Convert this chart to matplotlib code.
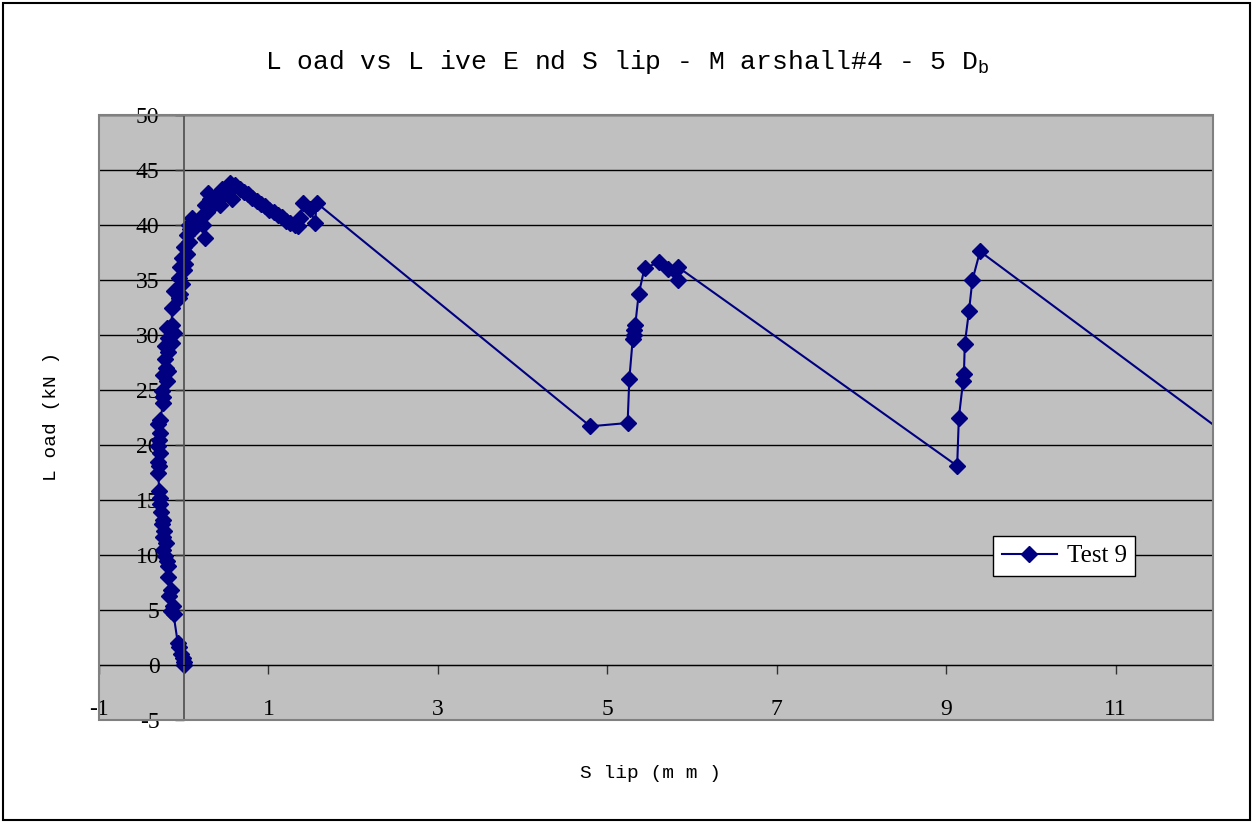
import matplotlib
matplotlib.use('Agg')
import matplotlib.pyplot as plt
from matplotlib.patches import Rectangle

# Test 9 readings: live end slip (mm) and load (kN)
slip = [0.00, 0.00, -0.01, -0.03, -0.06, -0.07, -0.12, -0.15, -0.13, -0.17,
        -0.15, -0.19, -0.18, -0.20, -0.22, -0.24, -0.21, -0.25, -0.23, -0.26,
        -0.24, -0.27, -0.28, -0.28, -0.29, -0.30, -0.29, -0.30, -0.28, -0.30,
        -0.29, -0.28, -0.30, -0.28, -0.24, -0.25, -0.26, -0.20, -0.24, -0.21,
        -0.18, -0.22, -0.19, -0.22, -0.14, -0.18, -0.12, -0.20, -0.14, -0.14,
        -0.12, -0.06, -0.04, -0.02, -0.06, 0.00, -0.04, 0.02, -0.02, 0.04,
        0.00, 0.06, 0.04, 0.08, 0.06, 0.12, 0.10, 0.16, 0.23, 0.25,
        0.21, 0.27, 0.25, 0.33, 0.31, 0.29, 0.39, 0.43, 0.45, 0.49,
        0.57, 0.55, 0.61, 0.66, 0.71, 0.76, 0.81, 0.86, 0.91, 0.96,
        1.01, 1.06, 1.11, 1.16, 1.21, 1.26, 1.31, 1.35, 1.37, 1.41,
        1.49, 1.55, 1.57,
        4.80, 5.24, 5.26, 5.30, 5.31, 5.32, 5.33, 5.37, 5.44, 5.61,
        5.72, 5.80, 5.83, 5.83,
        9.13, 9.15, 9.20, 9.21, 9.22, 9.27, 9.31, 9.40, 13.0]
load = [0.0, 0.3, 0.6, 1.0, 1.6, 2.0, 4.6, 4.9, 5.4, 6.3,
        6.8, 8.0, 9.0, 9.5, 9.9, 10.5, 11.1, 11.6, 12.2, 12.8,
        13.2, 13.9, 14.6, 15.2, 15.8, 17.5, 18.1, 18.5, 19.3, 19.9,
        20.5, 21.1, 21.9, 22.3, 23.8, 24.4, 24.9, 25.8, 26.4, 27.0,
        26.7, 27.8, 28.5, 29.0, 29.3, 29.7, 30.2, 30.6, 30.9, 32.5,
        34.0, 33.4, 33.7, 34.6, 35.2, 35.9, 36.2, 36.5, 37.0, 37.4,
        38.0, 38.5, 39.1, 39.6, 40.0, 39.7, 40.6, 40.3, 40.0, 38.8,
        40.8, 41.2, 41.8, 41.7, 42.4, 42.9, 42.7, 41.8, 43.3, 42.9,
        42.4, 43.8, 43.6, 43.3, 43.0, 42.8, 42.5, 42.2, 41.9, 41.7,
        41.4, 41.2, 40.9, 40.7, 40.4, 40.2, 40.0, 39.9, 40.6, 42.0,
        41.5, 40.2, 42.0,
        21.7, 22.0, 26.0, 29.6, 30.0, 30.5, 30.9, 33.7, 36.1, 36.6,
        36.0, 35.8, 35.0, 36.2,
        18.1, 22.5, 25.8, 26.5, 29.2, 32.2, 35.0, 37.6, 17.0]

x_ticks = [-1, 1, 3, 5, 7, 9, 11]
y_ticks = list(range(-5, 51, 5))

plt.rcParams['axes.unicode_minus'] = False
plt.rcParams['mathtext.fontset'] = 'custom'
plt.rcParams['mathtext.rm'] = 'Liberation Mono'

W, H = 1253, 823
fig = plt.figure(figsize=(W / 100, H / 100), dpi=100)
ax = fig.add_axes([99 / W, 1 - 720 / H, (1213 - 99) / W, (720 - 115) / H])
ax.set_facecolor('#c0c0c0')

ax.plot(slip, load, color='#000080', lw=1.5, marker='D', ms=8,
        mfc='#000080', mec='#000080', label='Test 9')

ax.set_xlim(-1, 12.15)
ax.set_ylim(-5, 50)
ax.set_xticks(x_ticks)
ax.set_yticks(y_ticks)

# axes cross at the origin, like the Excel chart
ax.spines['left'].set_position(('data', 0))
ax.spines['bottom'].set_position(('data', 0))
ax.spines['left'].set_color('#555555')
ax.spines['bottom'].set_color('black')
ax.spines['left'].set_linewidth(1.3)
ax.spines['top'].set_visible(False)
ax.spines['right'].set_visible(False)

ax.yaxis.grid(True, color='black', lw=1)
ax.set_axisbelow(True)

ax.tick_params(axis='x', direction='out', length=6.5, width=1, color='#333333', pad=18)
ax.tick_params(axis='y', direction='out', length=6.5, width=1, color='#333333', pad=11)
for lab in ax.get_xticklabels() + ax.get_yticklabels():
    lab.set_fontfamily('Liberation Serif')
    lab.set_fontsize(17)

# plot area border
ax.add_patch(Rectangle((0, 0), 1, 1, transform=ax.transAxes, fill=False,
                       ec='#808080', lw=1.5, clip_on=False, zorder=5))

leg = ax.legend(loc='lower left', bbox_to_anchor=(0.8025, 0.238),
                borderaxespad=0, fancybox=False, frameon=True,
                prop={'family': 'Liberation Serif', 'size': 18},
                handlelength=2.2, handletextpad=0.4, borderpad=0.35)
leg.get_frame().set_edgecolor('black')
leg.get_frame().set_facecolor('white')
leg.get_frame().set_alpha(1)
leg.get_frame().set_linewidth(1)

fig.text(627 / W, 1 - 62 / H, 'L oad vs L ive E nd S lip - M arshall#4 - 5 D$_\\mathrm{b}$',
         ha='center', va='center', family='Liberation Mono', fontsize=19)
fig.text(651 / W, 1 - 773 / H, 'S lip (m m )', ha='center', va='center',
         family='Liberation Mono', fontsize=14)
fig.text(51 / W, 1 - 416 / H, 'L oad (kN )', ha='center', va='center',
         rotation=90, family='Liberation Mono', fontsize=14)

# outer chart border
fig.patches.append(Rectangle((3 / W, 3 / H), 1 - 6 / W, 1 - 6 / H,
                             transform=fig.transFigure, fill=False,
                             ec='black', lw=1.5))

fig.savefig('out.png', dpi=100)
